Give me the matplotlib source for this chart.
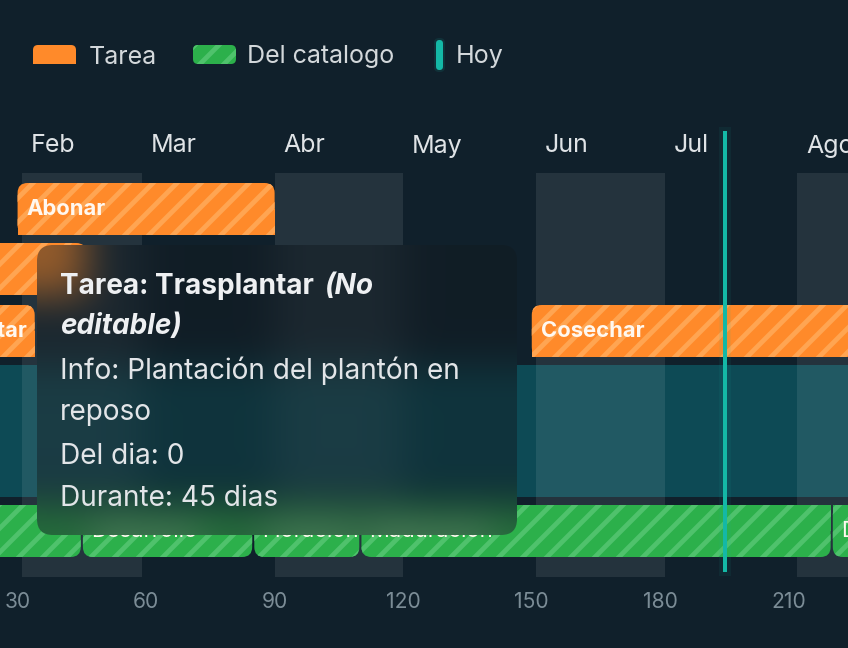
import numpy as np
import matplotlib
matplotlib.use('Agg')
import matplotlib.pyplot as plt
from matplotlib.patches import FancyBboxPatch, Rectangle
from matplotlib.transforms import Bbox, TransformedBbox

plt.rcParams['font.family'] = ['Inter', 'DejaVu Sans']
plt.rcParams['hatch.linewidth'] = 2.4

# --- datos (dia 0 = 1 de enero) ---
meses = ['Ene', 'Feb', 'Mar', 'Abr', 'May', 'Jun', 'Jul', 'Ago', 'Sep']
mes_inicio = [0, 31, 59, 90, 120, 151, 181, 212, 243, 273]

tareas = ['Abonar', 'Regar', 'Trasplantar', 'Cosechar']
tarea_inicio = [30, 0, 1, 150]
tarea_fin = [90, 46, 34, 245]
tarea_fila = [0, 1, 2, 2]

etapas = ['Germinación', 'Desarrollo', 'Floración', 'Maduración', 'Descanso']
etapa_inicio = [-20, 45, 85, 110, 220]
etapa_fin = [45, 85, 110, 220, 260]

ciclo = [-20, 273]
hoy = 195
dias_ticks = [30, 60, 90, 120, 150, 180, 210]
dias_vista = [25.9, 223.8]

leyenda = ['Tarea', 'Del catalogo', 'Hoy']
tip_titulo = 'Tarea: Trasplantar'
tip_titulo_extra = ['(No', 'editable)']
tip_lineas = ['Info: Plantación del plantón en', 'reposo', 'Del dia: 0', 'Durante: 45 dias']

# --- estilo ---
BG = '#10202b'
NARANJA, NARANJA_R = '#ff8a2a', '#ffa552'
VERDE, VERDE_R = '#2cb04b', '#4fc26c'
TEAL = '#14b8a6'
W, H, DPI = 848, 648, 144

fig = plt.figure(figsize=(W / DPI, H / DPI), dpi=DPI, facecolor=BG)
ax = fig.add_axes([0, 1 - 577 / H, 1, 404 / H])
ax.set_facecolor(BG)
ax.set_xlim(dias_vista)
ax.set_ylim(404, 0)
for s in ax.spines.values():
    s.set_visible(False)
ax.set_yticks([])
ax.set_xticks(dias_ticks)
ax.tick_params(axis='x', length=0, pad=7.5, labelsize=10.5, labelcolor='#7b8c96')

PX_DIA = W / (dias_vista[1] - dias_vista[0])
fila_top = [10, 70, 132]
ALTO = 52
ETAPA_TOP = 332


def barra(x0, x1, top, fc, rayas, arriba):
    r = 10 / PX_DIA
    ax.add_patch(FancyBboxPatch((x0, top), x1 - x0, ALTO,
                                boxstyle=f'round,pad=0,rounding_size={r}',
                                mutation_aspect=PX_DIA, fc=fc, ec=rayas, lw=0,
                                hatch='//', zorder=3))
    y_plano = top + ALTO / 2 if arriba else top
    ax.add_patch(Rectangle((x0, y_plano), x1 - x0, ALTO / 2, fc=fc, ec=rayas,
                           lw=0, hatch='//', zorder=3))


def etiqueta(nombre, x0, x1, top, peso):
    t = ax.annotate(nombre, xy=(x0, top + ALTO / 2), xytext=(4.5, 0),
                    textcoords='offset points', va='center', ha='left',
                    fontsize=11, fontweight=peso, color='#fff8f0',
                    annotation_clip=False, zorder=4)
    t.set_clip_box(TransformedBbox(Bbox([[x0, top], [x1, top + ALTO]]), ax.transData))
    t.set_clip_on(True)


# franja del ciclo y meses alternos
ax.add_patch(Rectangle((ciclo[0], 192), ciclo[1] - ciclo[0], 132, fc='#0d4a55', lw=0, zorder=1))
for i in range(1, len(meses), 2):
    ax.axvspan(mes_inicio[i], mes_inicio[i + 1], color='white', alpha=0.085, lw=0, zorder=2)
for nombre, ini in zip(meses, mes_inicio):
    ax.annotate(nombre, xy=(ini, -27), xytext=(4.5, 0), textcoords='offset points',
                va='center', fontsize=12.5, color='#dfe3e6', annotation_clip=False)

for nombre, a, b, f in zip(tareas, tarea_inicio, tarea_fin, tarea_fila):
    barra(a, b, fila_top[f], NARANJA, NARANJA_R, True)
    etiqueta(nombre, a, b, fila_top[f], 'bold')

for nombre, a, b in zip(etapas, etapa_inicio, etapa_fin):
    barra(a + 0.25, b - 0.25, ETAPA_TOP, VERDE, VERDE_R, False)
    etiqueta(nombre, a, b, ETAPA_TOP, 'normal')

ax.plot([hoy, hoy], [-40, 397], color=TEAL, lw=6, alpha=0.07, clip_on=False, zorder=6)
ax.plot([hoy, hoy], [-40, 397], color=TEAL, lw=2, clip_on=False, zorder=6)

# capa en pixeles: leyenda y tooltip
capa = fig.add_axes([0, 0, 1, 1], zorder=5)
capa.patch.set_alpha(0)
capa.axis('off')
capa.set_xlim(0, W)
capa.set_ylim(H, 0)

capa.add_patch(FancyBboxPatch((33, 45), 43, 19, boxstyle='round,pad=0,rounding_size=5',
                              fc=NARANJA, lw=0))
capa.add_patch(Rectangle((33, 54.5), 43, 9.5, fc=NARANJA, lw=0))
capa.add_patch(FancyBboxPatch((193, 45), 43, 19, boxstyle='round,pad=0,rounding_size=5',
                              fc=VERDE, ec=VERDE_R, lw=0, hatch='//'))
capa.add_patch(FancyBboxPatch((434, 38), 11, 34, boxstyle='round,pad=0,rounding_size=5',
                              fc=TEAL, lw=0, alpha=0.12))
capa.add_patch(FancyBboxPatch((436, 40), 7, 30, boxstyle='round,pad=0,rounding_size=3.5',
                              fc=TEAL, lw=0))
for texto, x in zip(leyenda, [89, 247, 456]):
    capa.text(x, 57, texto, va='center', fontsize=12.5, color='#d3d8db')

# tooltip con fondo desenfocado
x0, y0, x1, y1 = 37, 245, 517, 535
fig.canvas.draw()
fondo = np.asarray(fig.canvas.buffer_rgba())[y0:y1, x0:x1, :3].astype(float)


def desenfocar(a, r, eje):
    pad = [(0, 0)] * a.ndim
    pad[eje] = (r + 1, r)
    c = np.cumsum(np.pad(a, pad, mode='edge'), axis=eje)
    n = a.shape[eje]
    hi = np.take(c, np.arange(2 * r + 1, 2 * r + 1 + n), axis=eje)
    lo = np.take(c, np.arange(0, n), axis=eje)
    return (hi - lo) / (2 * r + 1)


for _ in range(3):
    fondo = desenfocar(desenfocar(fondo, 18, 0), 18, 1)
mezcla = 0.46 * np.array([18, 26, 32]) + 0.54 * fondo

caja = FancyBboxPatch((x0, y0), x1 - x0, y1 - y0, boxstyle='round,pad=0,rounding_size=16',
                      fc='none', lw=0)
capa.add_patch(caja)
im = capa.imshow(mezcla / 255, extent=(x0, x1, y1, y0), interpolation='nearest',
                 aspect='auto', zorder=6)
im.set_clip_path(caja)
capa.set_xlim(0, W)
capa.set_ylim(H, 0)

t1 = capa.text(60, 286, tip_titulo, va='center', fontsize=14, fontweight='bold',
               color='#eef0f2', zorder=7)
capa.annotate(tip_titulo_extra[0], xy=(1, 0.5), xycoords=t1, xytext=(5, 0),
              textcoords='offset points', va='center', fontsize=14, fontweight='bold',
              fontstyle='italic', color='#eef0f2', zorder=7)
capa.text(60, 327, tip_titulo_extra[1], va='center', fontsize=14, fontweight='bold',
          fontstyle='italic', color='#eef0f2', zorder=7)
for linea, y in zip(tip_lineas, [371, 413, 456, 499]):
    capa.text(60, y, linea, va='center', fontsize=14, color='#e2e5e8', zorder=7)

fig.savefig('out.png', dpi=DPI, facecolor=BG)
